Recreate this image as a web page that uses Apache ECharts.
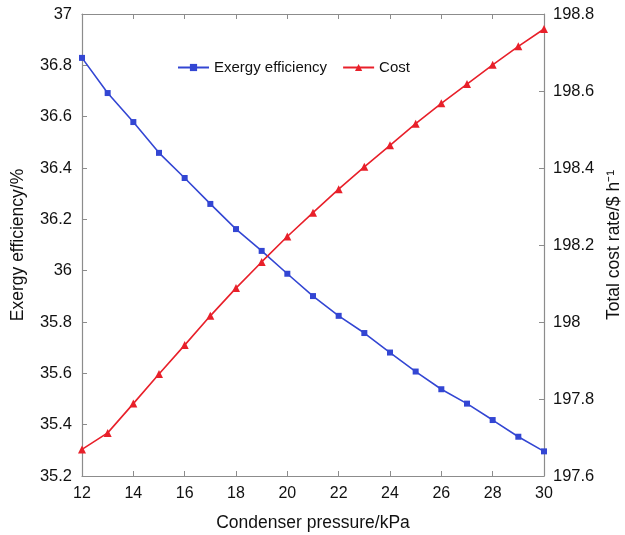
<!DOCTYPE html>
<html>
<head>
<meta charset="utf-8">
<script src="https://cdn.jsdelivr.net/npm/echarts@6/dist/echarts.min.js"></script>
<style>
  html, body { margin: 0; padding: 0; background: #fff; }
  #chart { width: 625px; height: 535px; }
</style>
</head>
<body>
<div id="chart"></div>
<script>
// Condenser pressure (kPa)
const pressure = [12, 13, 14, 15, 16, 17, 18, 19, 20, 21, 22, 23, 24, 25, 26, 27, 28, 29, 30];
// Exergy efficiency (%)
const exergyEfficiency = [36.829, 36.692, 36.579, 36.459, 36.361, 36.260, 36.162, 36.077, 35.988, 35.901,
  35.824, 35.757, 35.681, 35.607, 35.538, 35.482, 35.418, 35.353, 35.296];
// Total cost rate ($/h)
const costRate = [197.669, 197.712, 197.788, 197.865, 197.940, 198.016, 198.088, 198.156, 198.222, 198.284,
  198.345, 198.403, 198.459, 198.515, 198.568, 198.618, 198.668, 198.716, 198.761];

const font = 'Liberation Sans, Arial, Helvetica, sans-serif';
const axisGrey = '#8c8c8c';
const blue = '#3346d3';
const red = '#e8202a';

const chart = echarts.init(document.getElementById('chart'), null, { renderer: 'canvas' });

const frameAxis = {
  axisLine: { show: true, lineStyle: { color: axisGrey, width: 1.2 } },
  axisTick: { show: true, inside: true, length: 5, lineStyle: { color: axisGrey } },
  splitLine: { show: false }
};

chart.setOption({
  animation: false,
  textStyle: { fontFamily: font },
  grid: { left: 82, right: 81, top: 14, bottom: 59, containLabel: false, outerBoundsMode: 'none' },
  legend: {
    top: 55,
    left: 172,
    itemWidth: 31,
    itemHeight: 9,
    itemGap: 15,
    textStyle: { fontFamily: font, fontSize: 15, color: '#111' },
    data: ['Exergy efficiency', 'Cost']
  },
  xAxis: [
    Object.assign({}, frameAxis, {
      type: 'value',
      position: 'bottom',
      min: 12, max: 30, interval: 2,
      name: 'Condenser pressure/kPa',
      nameLocation: 'middle',
      nameGap: 38,
      nameTextStyle: { fontFamily: font, fontSize: 17.5, color: '#111' },
      axisLabel: { fontFamily: font, fontSize: 16, color: '#111', margin: 10 }
    }),
    Object.assign({}, frameAxis, {
      type: 'value',
      position: 'top',
      min: 12, max: 30, interval: 2,
      axisLabel: { show: false }
    })
  ],
  yAxis: [
    Object.assign({}, frameAxis, {
      type: 'value',
      position: 'left',
      min: 35.2, max: 37, interval: 0.2,
      name: 'Exergy efficiency/%',
      nameLocation: 'middle',
      nameGap: 55,
      nameTextStyle: { fontFamily: font, fontSize: 17.5, color: '#111' },
      axisLabel: {
        fontFamily: font, fontSize: 16.5, color: '#111', margin: 10,
        formatter: v => String(+v.toFixed(1))
      }
    }),
    Object.assign({}, frameAxis, {
      type: 'value',
      position: 'right',
      min: 197.6, max: 198.8, interval: 0.2,
      name: 'Total cost rate/$ h\u207B\u00B9',
      nameLocation: 'middle',
      nameGap: 60,
      nameRotate: 90,
      nameTextStyle: { fontFamily: font, fontSize: 17.5, color: '#111' },
      axisLabel: {
        fontFamily: font, fontSize: 16.5, color: '#111', margin: 9,
        formatter: v => String(+v.toFixed(1))
      }
    })
  ],
  series: [
    {
      name: 'Exergy efficiency',
      type: 'line',
      xAxisIndex: 0,
      yAxisIndex: 0,
      data: pressure.map((p, i) => [p, exergyEfficiency[i]]),
      color: blue,
      lineStyle: { width: 1.6, color: blue },
      symbol: 'rect',
      symbolSize: 6,
      itemStyle: { color: blue }
    },
    {
      name: 'Cost',
      type: 'line',
      xAxisIndex: 0,
      yAxisIndex: 1,
      data: pressure.map((p, i) => [p, costRate[i]]),
      color: red,
      lineStyle: { width: 1.6, color: red },
      symbol: 'triangle',
      symbolSize: 8,
      itemStyle: { color: red }
    }
  ]
});
</script>
</body>
</html>
